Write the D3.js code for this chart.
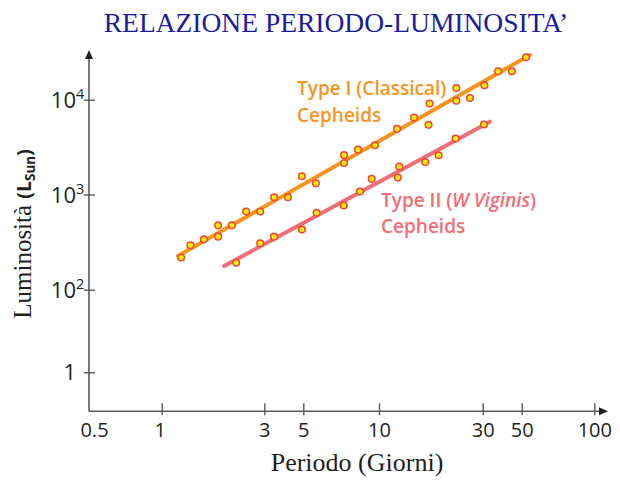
<!DOCTYPE html>
<html lang="it">
<head>
<meta charset="UTF-8" />
<style>
  body { margin: 0; background: #fff; }
  svg { display: block; }
  .tick text { font-family: "Open Sans", sans-serif; fill: #231f20; }
</style>
</head>
<body>
<svg width="620" height="480"></svg>
<script src="https://d3js.org/d3.v7.min.js"></script>
<script>
// periods (days) and luminosities (L_sun)
var typeIPeriod = [1.23, 1.36, 1.57, 1.83, 1.83, 2.12, 2.47, 2.87, 3.41, 4.09, 4.91, 5.61, 7.26, 7.26,
                   8.25, 9.64, 12.1, 14.5, 17.1, 16.9, 22.7, 22.7, 26.2, 30.7, 36.7, 44.0, 52.1];
var typeILum = [218, 293, 338, 474, 361, 476, 662, 662, 935, 935, 1555, 1312, 2605, 2146,
                2977, 3304, 4928, 6494, 9120, 5428, 13285, 9760, 10420, 14230, 19980, 19980, 28060];

var typeIIPeriod = [2.22, 2.87, 3.41, 4.91, 5.65, 7.24, 8.40, 9.35, 12.2, 12.4, 16.3, 18.8, 22.5, 30.5];
var typeIILum = [192, 307, 361, 429, 644, 766, 1076, 1462, 1507, 1971, 2198, 2592, 3895, 5470];

// fitted lines (start, end)
var typeIFitPeriod = [1.19, 54.1];
var typeIFitLum = [226, 29610];
var typeIIFitPeriod = [1.95, 33.0];
var typeIIFitLum = [177, 5866];

var xTicks = [0.5, 1, 3, 5, 10, 30, 50, 100];
var xTickLabels = ["0.5", "1", "3", "5", "10", "30", "50", "100"];
var yTicks = [1, 100, 1000, 10000];
var yTickBase = ["1", "10", "10", "10"];
var yTickExp = ["", "2", "3", "4"];

var svg = d3.select("svg");

// the original drawing has unevenly spaced ticks, so piecewise log scales
var x = d3.scaleLog().domain(xTicks).range([89, 161.7, 264.3, 303.3, 379, 482.7, 521.7, 594.3]);
var y = d3.scaleLog().domain(yTicks).range([372.3, 289.7, 194.5, 99.7]);

var axisColor = "#58595b";
var x0 = 89, y0 = 411.3;

// title
svg.append("text")
    .attr("x", 336).attr("y", 32)
    .attr("text-anchor", "middle")
    .style("font-family", "'Liberation Serif', 'Times New Roman', serif")
    .style("font-size", "27.5px")
    .style("fill", "#1b1b9b")
    .text("RELAZIONE PERIODO-LUMINOSITA\u2019");

// axes lines with arrows
svg.append("line").attr("x1", x0).attr("y1", y0).attr("x2", 603).attr("y2", y0)
    .attr("stroke", axisColor).attr("stroke-width", 1.6);
svg.append("line").attr("x1", x0).attr("y1", y0).attr("x2", x0).attr("y2", 56)
    .attr("stroke", axisColor).attr("stroke-width", 1.6);
svg.append("path").attr("d", "M608," + y0 + " L599," + (y0 - 4) + " L599," + (y0 + 4) + " Z")
    .attr("fill", "#231f20");
svg.append("path").attr("d", "M" + x0 + ",50 L" + (x0 - 4) + ",59 L" + (x0 + 4) + ",59 Z")
    .attr("fill", "#231f20");

// x axis
var gx = svg.append("g")
    .attr("transform", "translate(0," + y0 + ")")
    .call(d3.axisBottom(x).tickValues(xTicks).tickFormat(function (d, i) { return xTickLabels[i]; }));
gx.select(".domain").remove();
gx.selectAll(".tick line").attr("y1", -8).attr("y2", 4).attr("stroke", axisColor).attr("stroke-width", 1.4);
gx.selectAll(".tick").filter(function (d) { return d === 0.5; }).select("line").remove();
gx.selectAll(".tick text")
    .attr("y", 26).attr("dy", 0)
    .attr("dx", function (d) { return d === 0.5 ? 5 : (d === 1 ? -2 : 0); })
    .style("font-size", "20px");

// y axis
var gy = svg.append("g")
    .attr("transform", "translate(" + x0 + ",0)")
    .call(d3.axisLeft(y).tickValues(yTicks).tickFormat(""));
gy.select(".domain").remove();
gy.selectAll(".tick line").attr("x1", -5).attr("x2", 6).attr("stroke", axisColor).attr("stroke-width", 1.4);
gy.selectAll(".tick text").remove();
gy.selectAll(".tick").each(function (d, i) {
    var t = d3.select(this);
    t.append("text")
        .attr("x", -13).attr("y", 7.5)
        .attr("text-anchor", "end")
        .style("font-size", "22px")
        .text(yTickBase[i]);
    t.append("text")
        .attr("x", -13).attr("y", -1)
        .attr("text-anchor", "start")
        .style("font-size", "14.5px")
        .text(yTickExp[i]);
});

// axis titles
svg.append("text")
    .attr("x", 357).attr("y", 471)
    .attr("text-anchor", "middle")
    .style("font-family", "'Liberation Serif', 'Times New Roman', serif")
    .style("font-size", "26px")
    .style("fill", "#231f20")
    .text("Periodo (Giorni)");

var yl = svg.append("text")
    .attr("transform", "translate(31,234) rotate(-90)")
    .attr("text-anchor", "middle")
    .style("fill", "#231f20");
yl.append("tspan")
    .style("font-family", "'Liberation Serif', 'Times New Roman', serif")
    .style("font-size", "25px")
    .text("Luminosit\u00e0 ");
yl.append("tspan")
    .style("font-family", "'Open Sans', sans-serif").style("font-weight", 700).style("font-size", "19.5px")
    .text("(L");
yl.append("tspan")
    .attr("dy", 4)
    .style("font-family", "'Open Sans', sans-serif").style("font-weight", 700).style("font-size", "13.5px")
    .text("Sun");
yl.append("tspan")
    .attr("dy", -4)
    .style("font-family", "'Open Sans', sans-serif").style("font-weight", 700).style("font-size", "19.5px")
    .text(")");

// fit lines
var orange = "#f7941d", pink = "#f26d75";
function fitLine(per, lum, color) {
    svg.append("line")
        .attr("x1", x(per[0])).attr("y1", y(lum[0]))
        .attr("x2", x(per[1])).attr("y2", y(lum[1]))
        .attr("stroke", color).attr("stroke-width", 4).attr("stroke-linecap", "round");
}
fitLine(typeIFitPeriod, typeIFitLum, orange);
fitLine(typeIIFitPeriod, typeIIFitLum, pink);

function drawPoints(per, lum) {
    svg.append("g").selectAll("circle")
        .data(per)
        .enter().append("circle")
        .attr("cx", function (d) { return x(d); })
        .attr("cy", function (d, i) { return y(lum[i]); })
        .attr("r", 3.3)
        .attr("fill", "#ffec00")
        .attr("stroke", "#f0433a")
        .attr("stroke-width", 1.5);
}
drawPoints(typeIPeriod, typeILum);
drawPoints(typeIIPeriod, typeIILum);

// series labels
var lab1 = svg.append("g")
    .style("font-family", "'Open Sans', sans-serif").style("font-weight", 600).style("font-size", "19px")
    .style("fill", orange);
lab1.append("text").attr("x", 297).attr("y", 95).text("Type I (Classical)");
lab1.append("text").attr("x", 297).attr("y", 121.7).text("Cepheids");

var lab2 = svg.append("g")
    .style("font-family", "'Open Sans', sans-serif").style("font-weight", 600).style("font-size", "19px")
    .style("fill", pink);
var l2 = lab2.append("text").attr("x", 381).attr("y", 206.7);
l2.append("tspan").text("Type II (");
l2.append("tspan").style("font-style", "italic").text("W Viginis");
l2.append("tspan").text(")");
lab2.append("text").attr("x", 381).attr("y", 233.3).text("Cepheids");
</script>
</body>
</html>
